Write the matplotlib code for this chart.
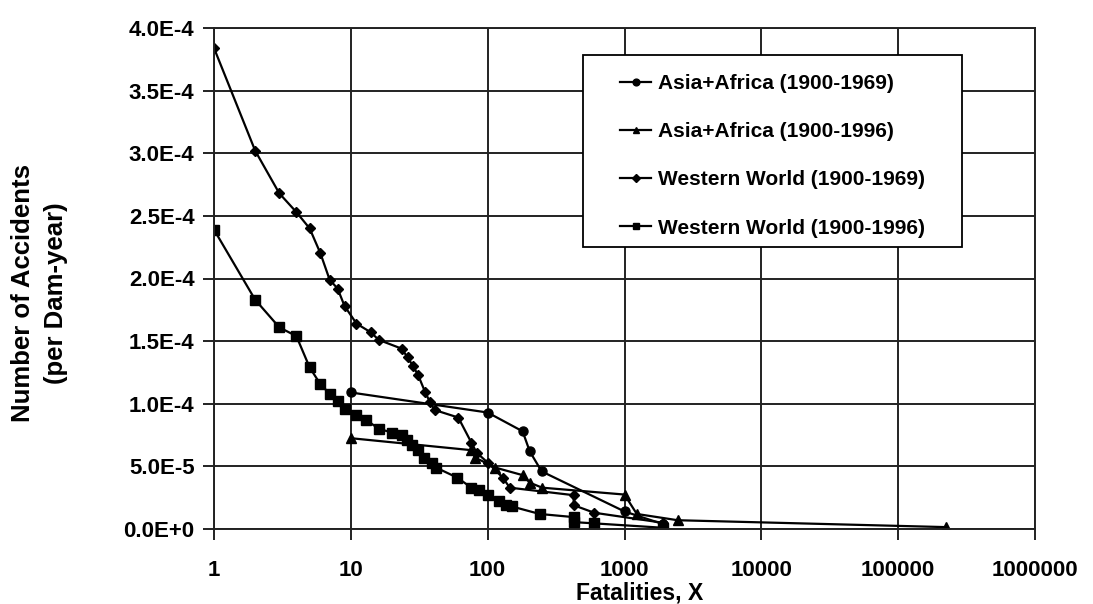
import matplotlib
matplotlib.use("Agg")
import matplotlib.pyplot as plt
from matplotlib.ticker import FixedLocator, FuncFormatter, NullLocator
from matplotlib.patches import Rectangle

plt.rcParams['font.family'] = ['Liberation Sans', 'DejaVu Sans']
plt.rcParams['font.weight'] = 'bold'

# fatalities (x) and accidents per dam-year (y)
asia69_x = [10, 100, 180, 203, 248, 1000, 1900]
asia69_y = [1.09e-4, 0.93e-4, 0.78e-4, 0.62e-4, 0.46e-4, 0.14e-4, 0.04e-4]

asia96_x = [10, 75, 81, 114, 180, 203, 250, 1000, 1230, 2450, 225000]
asia96_y = [0.725e-4, 0.63e-4, 0.57e-4, 0.49e-4, 0.43e-4, 0.37e-4, 0.33e-4,
	0.275e-4, 0.12e-4, 0.07e-4, 0.015e-4]

west69_x = [1, 2, 3, 4, 5, 6, 7, 8, 9, 11, 14, 16, 23.5, 26, 28.5, 31, 35, 38,
	41, 61, 76, 83, 100, 129, 145, 425, 425, 600, 1900]
west69_y = [3.84e-4, 3.02e-4, 2.68e-4, 2.53e-4, 2.40e-4, 2.20e-4, 1.99e-4,
	1.92e-4, 1.78e-4, 1.64e-4, 1.57e-4, 1.51e-4, 1.44e-4, 1.37e-4, 1.30e-4,
	1.23e-4, 1.09e-4, 1.01e-4, 0.95e-4, 0.89e-4, 0.69e-4, 0.61e-4, 0.53e-4,
	0.41e-4, 0.33e-4, 0.27e-4, 0.19e-4, 0.13e-4, 0.05e-4]

west96_x = [1, 2, 3, 4, 5, 6, 7, 8, 9, 11, 13, 16, 20, 23.5, 25.6, 28, 31,
	34.5, 39, 42, 60, 76, 87, 100, 122, 137, 150, 240, 425, 425, 600, 1900]
west96_y = [2.39e-4, 1.83e-4, 1.61e-4, 1.54e-4, 1.29e-4, 1.155e-4, 1.08e-4,
	1.02e-4, 0.96e-4, 0.91e-4, 0.87e-4, 0.80e-4, 0.77e-4, 0.75e-4, 0.71e-4,
	0.67e-4, 0.63e-4, 0.57e-4, 0.53e-4, 0.49e-4, 0.41e-4, 0.33e-4, 0.31e-4,
	0.27e-4, 0.22e-4, 0.19e-4, 0.18e-4, 0.12e-4, 0.095e-4, 0.055e-4,
	0.045e-4, 0.01e-4]

series_labels = ["Asia+Africa (1900-1969)", "Asia+Africa (1900-1996)",
	"Western World (1900-1969)", "Western World (1900-1996)"]

x_ticks = [1, 10, 100, 1000, 10000, 100000, 1000000]
y_ticks = [0, 0.5e-4, 1.0e-4, 1.5e-4, 2.0e-4, 2.5e-4, 3.0e-4, 3.5e-4, 4.0e-4]


def sci_label(v, pos):
	mant, exp = f"{v:.1E}".split("E")
	return f"{mant}E{int(exp):+d}"


fig = plt.figure(figsize=(10.93, 6.04), dpi=100)
ax = fig.add_axes([214 / 1093, 1 - 529 / 604, 821 / 1093, 501 / 604])

style = dict(color='black', linewidth=1.6, markeredgecolor='black', markerfacecolor='black')
ax.plot(asia69_x, asia69_y, marker='o', markersize=6.5, label=series_labels[0], **style)
ax.plot(asia96_x, asia96_y, marker='^', markersize=6.5, label=series_labels[1], **style)
ax.plot(west69_x, west69_y, marker='D', markersize=5.5, label=series_labels[2], **style)
ax.plot(west96_x, west96_y, marker='s', markersize=6.5, label=series_labels[3], **style)

ax.set_xscale('log')
ax.set_xlim(1, 1000000)
ax.set_ylim(0, 4.0e-4)
ax.xaxis.set_major_locator(FixedLocator(x_ticks))
ax.xaxis.set_minor_locator(NullLocator())
ax.xaxis.set_major_formatter(FuncFormatter(lambda v, pos: f"{int(round(v))}"))
ax.yaxis.set_major_locator(FixedLocator(y_ticks))
ax.yaxis.set_major_formatter(FuncFormatter(sci_label))

ax.grid(True, color='#222222', linewidth=1.4)
ax.set_axisbelow(True)
for sp in ax.spines.values():
	sp.set_color('#222222')
	sp.set_linewidth(1.4)
ax.tick_params(direction='out', length=8, width=1.4, color='#222222', labelsize=16)
ax.tick_params(axis='x', pad=14)
ax.tick_params(axis='y', pad=6)
for lab in ax.get_xticklabels() + ax.get_yticklabels():
	lab.set_fontweight('bold')

fig.text(640 / 1093, 1 - 593 / 604, "Fatalities, X", ha='center', va='center',
	fontsize=16.5, fontweight='bold')
fig.text(23 / 1093, 1 - 293 / 604, "Number of Accidents", rotation=90, ha='center', va='center',
	fontsize=18.5, fontweight='bold')
fig.text(56 / 1093, 1 - 293 / 604, "(per Dam-year)", rotation=90, ha='center', va='center',
	fontsize=18.5, fontweight='bold')

# legend frame, drawn as a box so the padding can differ in x and y
box = Rectangle((583 / 1093, 1 - 247 / 604), 379 / 1093, 192 / 604, transform=fig.transFigure,
	facecolor='white', edgecolor='black', linewidth=1.3, zorder=5)
fig.patches.append(box)
leg = fig.legend(loc='upper left', bbox_to_anchor=(620 / 1093, 1 - 74 / 604), frameon=False,
	prop={'size': 15, 'weight': 'bold'}, handlelength=1.5, handletextpad=0.3,
	labelspacing=1.4, borderpad=0, borderaxespad=0, markerscale=0.75)
leg.set_zorder(6)

plt.savefig("out.png", dpi=100)
